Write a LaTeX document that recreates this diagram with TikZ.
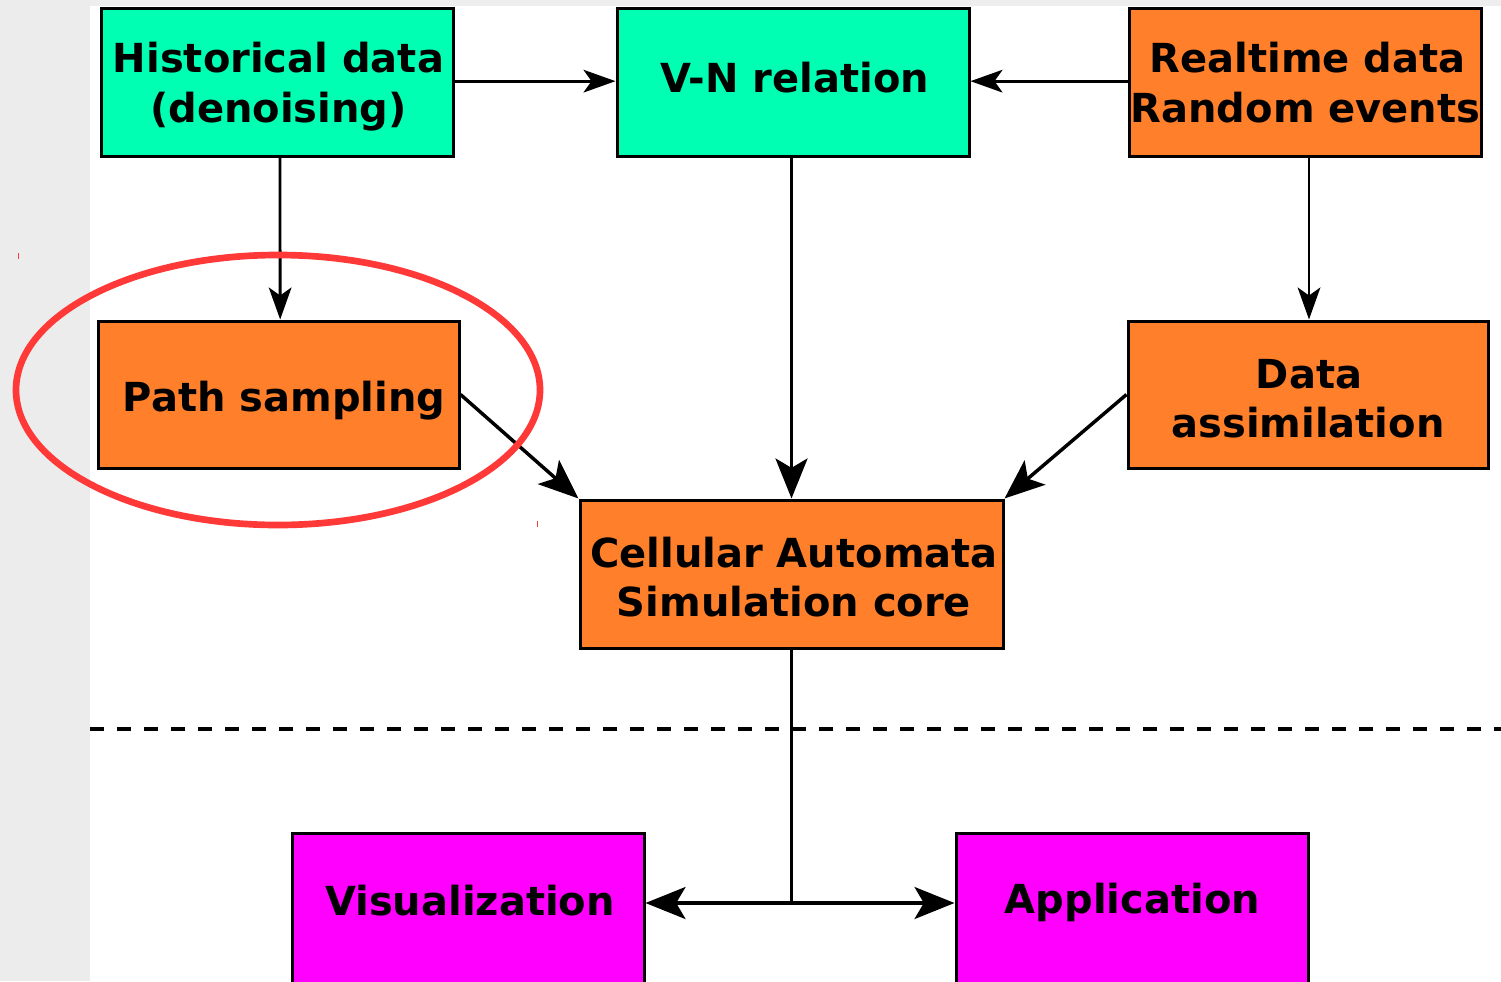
\documentclass[tikz,border=0pt]{standalone}
\usepackage{fontspec}
\setmainfont{DejaVu Sans}
\usetikzlibrary{arrows.meta}
\definecolor{mint}{HTML}{00FFB3}
\definecolor{orng}{HTML}{FF7F2A}
\definecolor{mag}{HTML}{FF00FF}
\definecolor{ringred}{HTML}{FF3838}
\definecolor{bandgray}{HTML}{ECECEC}
\definecolor{topgray}{HTML}{EEEEEE}
\begin{document}
\begin{tikzpicture}[x=0.75pt,y=-0.75pt,
  box/.style={draw=black, line width=2.25pt, inner sep=0pt},
  lbl/.style={inner sep=0pt, anchor=base, font=\bfseries\fontsize{30}{36}\selectfont},
  thinarrow/.style={line width=2.1pt, -{Stealth[length=24pt, width=17pt, inset=6pt]}},
  thickarrow/.style={line width=2.6pt, -{Stealth[length=30pt, width=24pt, inset=7pt]}},
  plainline/.style={line width=2.25pt}]
\useasboundingbox (0,0) rectangle (1501,981);
\fill[bandgray] (0,0) rectangle (90,981);
\fill[topgray] (90,0) rectangle (1501,6);

% boxes
\node[box, fill=mint, minimum width=264pt, minimum height=110.25pt] (hist) at (277,82.5) {};
\node[box, fill=mint, minimum width=264pt, minimum height=110.25pt] (vn) at (793,82.5) {};
\node[box, fill=orng, minimum width=264pt, minimum height=110.25pt] (rt) at (1305,82.5) {};
\node[box, fill=orng, minimum width=270.75pt, minimum height=110.25pt] (path) at (278.5,394.5) {};
\node[box, fill=orng, minimum width=270pt, minimum height=110.25pt] (da) at (1308,394.5) {};
\node[box, fill=orng, minimum width=317.25pt, minimum height=111pt] (ca) at (791.5,574) {};
\node[box, fill=mag, minimum width=264pt, minimum height=120pt] (vis) at (468,913) {};
\node[box, fill=mag, minimum width=264pt, minimum height=120pt] (app) at (1132,913) {};

% texts
\node[lbl] (histA) at (278.5,73) {Historical data};
\node[lbl] (histB) at (278.5,122) {(denoising)};
\node[lbl] (vnA) at (795,93) {V-N relation};
\node[lbl] (rtA) at (1307.5,73) {Realtime data};
\node[lbl] (rtB) at (1305.5,122) {Random events};
\node[lbl] (pathA) at (284,411) {Path sampling};
\node[lbl] (daA) at (1309,388) {Data};
\node[lbl] (daB) at (1308,437) {assimilation};
\node[lbl] (caA) at (794,567) {Cellular Automata};
\node[lbl] (caB) at (794,616) {Simulation core};
\node[lbl] (visA) at (470,915) {Visualization};
\node[lbl] (appA) at (1132.5,913) {Application};

% connectors
\draw[thinarrow] ([yshift=1pt]hist.east) -- ([yshift=1pt]vn.west);
\draw[thinarrow] ([yshift=1pt]rt.west) -- ([yshift=1pt]vn.east);
\draw[thinarrow] ([xshift=2.25pt]hist.south) -- ([xshift=1.25pt]path.north);
\draw[thinarrow] ([xshift=3pt]rt.south) -- ([xshift=0.75pt]da.north);
\draw[thickarrow] (vn.south -| ca.north) -- (ca.north);
\draw[thickarrow] (path.east) -- (ca.north west);
\draw[thickarrow] (da.west) -- (ca.north east);
\coordinate (j) at (791.5,903);
\draw[plainline] (ca.south) -- (j);
\draw[thickarrow] (j) -- (vis.east |- j);
\draw[thickarrow] (j) -- (app.west |- j);

\draw[line width=3pt, dash pattern=on 10.5pt off 9.75pt] (90,729) -- (1501,729);

\draw[ringred, line width=5pt] (278,390) ellipse [x radius=262, y radius=135];
\draw[ringred, line width=0.75pt] (18,253) -- (18,259);
\draw[ringred, line width=0.75pt] (537,521) -- (537,527);
\end{tikzpicture}
\end{document}
